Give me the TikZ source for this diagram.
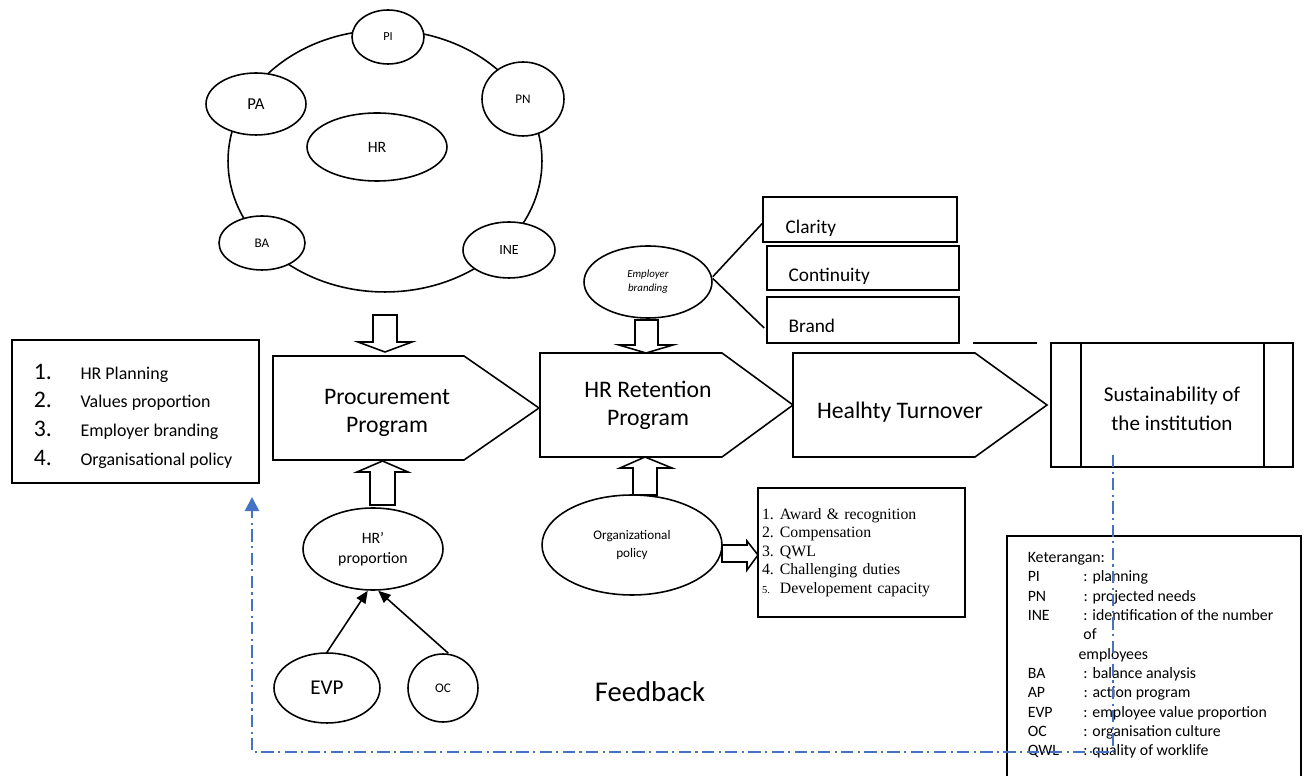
\documentclass[tikz,border=0pt]{standalone}
\usepackage{fontspec}
\setmainfont{Carlito}
\newfontfamily\timesfont{Liberation Serif}
\usepackage{xcolor}
\usetikzlibrary{arrows.meta,shapes.geometric,positioning,calc}
\definecolor{fbblue}{RGB}{68,114,196}
\newcommand{\fs}[2]{\fontsize{#1}{#2}\selectfont}
\newcommand{\legrow}[2]{\makebox[31.7pt][l]{#1}: #2}
\newcommand{\numrow}[2]{\makebox[26.6pt][l]{\fs{13.5}{16.3}#1}#2}
\newcommand{\awrow}[2]{\makebox[10.2pt][l]{#1}#2}
\tikzset{
  ell/.style={draw, ellipse, fill=white, inner sep=0pt, align=center},
  box/.style={draw, rectangle, inner sep=0pt},
  penta/.style={draw, fill=white, line join=miter},
  blockarrow/.style={draw, fill=white, line join=miter},
  feedback/.style={fbblue, line width=1.2pt,
    dash pattern=on 7pt off 2.5pt on 1.2pt off 2.5pt,
    -{Triangle[width=8pt,length=8pt]}},
}

\begin{document}
\begin{tikzpicture}[x=0.02cm, y=-0.02cm, line width=0.9pt, >=Triangle]
  \useasboundingbox (0,0) rectangle (1306,776);

  % ring of HR planning
  \node[ell, minimum width=6.28cm, minimum height=5.24cm] (ring) at (385,161) {};
  \node[ell, minimum width=2.8cm, minimum height=1.36cm, font=\fs{9}{11}] (hr) at (377,147) {HR};
  \node[ell, minimum width=1.44cm, minimum height=1.08cm, font=\fs{7}{9}] (pi) at (388,37) {PI};
  \node[ell, minimum width=2cm, minimum height=1.24cm, font=\fs{9.5}{11}] (pa) at (256,104) {PA};
  \node[ell, minimum width=1.64cm, minimum height=1.48cm, font=\fs{7.5}{9}] (pn) at (523,99) {PN};
  \node[ell, minimum width=1.72cm, minimum height=1.08cm, font=\fs{7.5}{9}] (ba) at (262,243) {BA};
  \node[ell, minimum width=1.84cm, minimum height=1.12cm, font=\fs{8}{9}] (ine) at (509,250) {INE};

  % programme chain
  \draw[penta] (273,356) -- (464,356) -- (539,408) -- (464,460) -- (273,460) -- cycle;
  \node[align=center, font=\fs{13.5}{16}] (procure) at (387,413) {Procurement\\Program};
  \draw[penta] (540,353) -- (722,353) -- (793,405) -- (722,457) -- (540,457) -- cycle;
  \node[align=center, font=\fs{13.5}{16}] (retain) at (648,405) {HR Retention\\Program};
  \draw[penta] (793,353) -- (975,353) -- (1047,405) -- (975,457) -- (793,457) -- cycle;
  \node[font=\fs{13.5}{16}] (turnover) at (900,412) {Healhty Turnover};
  \node[box, minimum width=4.84cm, minimum height=2.48cm] (sustain) at (1172,405) {};
  \node[align=center, font=\fs{12}{16.4}] (sustaint) at (1172,409) {Sustainability of\\the institution};
  \draw ($(sustain.north west)+(31,0)$) -- ($(sustain.south west)+(31,0)$);
  \draw ($(sustain.north east)+(-30,0)$) -- ($(sustain.south east)+(-30,0)$);
  \draw (973,343) -- (1037,343);

  % left list
  \node[box, minimum width=4.94cm, minimum height=2.86cm, text width=4.1cm,
    inner xsep=0.42cm, align=left, font=\fs{10.2}{16.3}] (tasks) at (135.5,411.5) {};
  \node[anchor=west, inner sep=0pt, align=left, font=\fs{10.2}{16.3}] (taskst) at (33,416)
    {\numrow{1.}{HR Planning}\\\numrow{2.}{Values proportion}\\
     \numrow{3.}{Employer branding}\\\numrow{4.}{Organisational policy}};

  % proportion inputs
  \node[ell, minimum width=2.8cm, minimum height=1.64cm, font=\fs{9}{11.3}] (hrprop) at (373,549) {HR’\\proportion};
  \node[ell, minimum width=2.12cm, minimum height=1.4cm, font=\fs{12}{14}] (evp) at (327,688) {EVP};
  \node[ell, minimum width=1.4cm, minimum height=1.36cm, font=\fs{7.5}{9}] (oc) at (443,688) {OC};
  \draw[-{Triangle[width=6pt,length=7pt]}] (evp.north) -- ([xshift=-3pt]hrprop.south);
  \draw[-{Triangle[width=6pt,length=7pt]}] ([xshift=3pt]oc.north) -- ([xshift=3pt]hrprop.south);

  % employer branding
  \node[ell, minimum width=2.56cm, minimum height=1.44cm, font=\itshape\fs{6.2}{8.1}] (brandell) at (648,282) {Employer\\branding};
  \node[box, minimum width=3.88cm, minimum height=0.9cm] (clarity) at (860,219.5) {};
  \node[anchor=west, font=\fs{11}{13}] (clarityt) at (779,228) {Clarity};
  \node[box, minimum width=3.84cm, minimum height=0.88cm] (continuity) at (863,268) {};
  \node[anchor=west, font=\fs{11}{13}] (continuityt) at (782,276) {Continuity};
  \node[box, minimum width=3.84cm, minimum height=0.92cm] (brand) at (863,320) {};
  \node[anchor=west, font=\fs{11}{13}] (brandt) at (782,326) {Brand};
  \draw ([yshift=3pt]brandell.east) -- ($(clarity.west)+(0,4)$);
  \draw ([yshift=2pt]brandell.east) -- ($(brand.west)+(-2,8)$);

  % organisational policy
  \node[ell, minimum width=3.6cm, minimum height=2cm, font=\fs{7.5}{10.4}] (orgpol) at (632,545) {Organizational\\policy};
  \node[box, minimum width=4.14cm, minimum height=2.58cm, text width=3.98cm,
    inner xsep=0.08cm, align=left, font=\timesfont\fs{9}{10.5}] (awards) at (861.5,552.5)
    {\awrow{1.}{Award \& recognition}\\\awrow{2.}{Compensation}\\\awrow{3.}{QWL}\\
     \awrow{4.}{Challenging duties}\\\awrow{\fs{6}{10.5}5.}{Developement capacity}};

  % block arrows
  \draw[blockarrow] (373,315) -- (397,315) -- (397,342) -- (412,342) -- (385,352)
    -- (358,342) -- (373,342) -- cycle;
  \draw[blockarrow] (370,505) -- (370,472) -- (357,472) -- (382.5,461) -- (408,472)
    -- (395,472) -- (395,505) -- cycle;
  \draw[blockarrow] (635,320) -- (658,320) -- (658,345) -- (673,345) -- (646,353)
    -- (619,345) -- (635,345) -- cycle;
  \draw[blockarrow] (633,495) -- (633,468) -- (620,468) -- (645,457) -- (672,468)
    -- (657,468) -- (657,495) -- cycle;
  \draw[blockarrow] (722,545) -- (747,545) -- (747,541) -- (758,555) -- (747,570)
    -- (747,562) -- (722,562) -- cycle;

  \node[font=\fs{16.3}{20}] (fbtext) at (650,692) {Feedback};

  % legend
  \node[box, anchor=north west, minimum width=5.88cm, minimum height=4.95cm] (legend) at (1006,535) {};
  \node[anchor=north west, inner sep=0pt, align=left, font=\fs{9}{11}] (legendt) at (1027,551.5)
    {Keterangan:\\\legrow{PI}{planning}\\\legrow{PN}{projected needs}\\
     \legrow{INE}{identification of the number}\\\hspace*{31.7pt}of\\
     \hspace*{28.9pt}employees\\\legrow{BA}{balance analysis}\\
     \legrow{AP}{action program}\\\legrow{EVP}{employee value proportion}\\
     \legrow{OC}{organisation culture}\\\legrow{QWL}{quality of worklife}};

  % feedback loop
  \coordinate (fbstart) at (1113,455);
  \coordinate (fbcorner) at (252,752);
  \coordinate (fbtip) at (252,497);
  \draw[feedback] (fbstart) |- (fbcorner) -- (fbtip);
\end{tikzpicture}
\end{document}
